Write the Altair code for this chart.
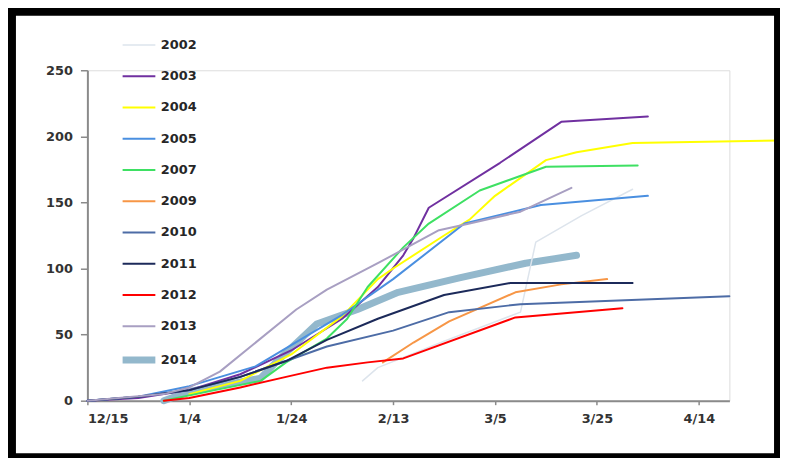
import altair as alt
import pandas as pd

years = ["2002", "2003", "2004", "2005", "2007", "2009", "2010", "2011", "2012", "2013", "2014"]
colors = ["#dde4ec", "#7030a0", "#ffff00", "#4a8fe0", "#3ee063", "#f79646",
          "#4d6ca6", "#1c2a5a", "#ff0000", "#a89fc2", "#93b8cc"]
widths = [1.5, 2, 2, 2, 2, 2, 2, 2, 2, 2, 7]

# days since 12/15 and cumulative values
d2002 = [54, 57, 70, 85, 88, 97, 107]
v2002 = [15, 25, 45, 67, 120, 140, 160]
d2003 = [0, 10, 20, 30, 40, 50, 57, 62, 64, 67, 81, 93, 110]
v2003 = [0, 2, 8, 20, 38, 62, 86, 110, 123, 146, 180, 211, 215]
d2004 = [20, 30, 40, 50, 57, 60, 70, 75, 80, 90, 96, 107, 137]
v2004 = [5, 15, 35, 64, 92, 100, 125, 137, 155, 182, 188, 195, 197]
d2005 = [0, 10, 20, 33, 40, 50, 60, 74, 89, 110]
v2005 = [0, 3, 11, 26, 42, 65, 92, 134, 148, 155]
d2007 = [15, 25, 34, 39, 47, 51, 55, 62, 67, 77, 90, 108]
v2007 = [0, 8, 15, 29, 47, 62, 86, 116, 134, 159, 177, 178]
d2009 = [58, 64, 71, 84, 93, 102]
v2009 = [29, 44, 60, 82, 88, 92]
d2010 = [0, 10, 20, 30, 39, 47, 60, 71, 85, 126]
v2010 = [0, 3, 8, 18, 30, 41, 53, 67, 73, 79]
d2011 = [0, 10, 20, 30, 39, 47, 57, 70, 83, 107]
v2011 = [0, 3, 8, 18, 30, 46, 62, 80, 89, 89]
d2012 = [15, 20, 30, 39, 47, 55, 62, 84, 105]
v2012 = [0, 2, 10, 18, 25, 29, 32, 63, 70]
d2013 = [0, 15, 20, 26, 41, 47, 57, 69, 75, 85, 95]
v2013 = [0, 5, 10, 22, 69, 84, 104, 129, 134, 143, 161]
d2014 = [15, 20, 34, 37, 45, 53, 61, 73, 86, 96]
v2014 = [0, 7, 17, 29, 58, 69, 82, 93, 104, 110]

tick_days = [0, 20, 40, 60, 80, 100, 120]
tick_labels = ["12/15", "1/4", "1/24", "2/13", "3/5", "3/25", "4/14"]
y_ticks = [0, 50, 100, 150, 200, 250]

series = {
    "2002": (d2002, v2002), "2003": (d2003, v2003), "2004": (d2004, v2004),
    "2005": (d2005, v2005), "2007": (d2007, v2007), "2009": (d2009, v2009),
    "2010": (d2010, v2010), "2011": (d2011, v2011), "2012": (d2012, v2012),
    "2013": (d2013, v2013), "2014": (d2014, v2014),
}
# draw the thick 2014 series first so the thin lines sit on top of it
draw_order = ["2014"] + years[:-1]
rows = []
for y in draw_order:
    ds, vs = series[y]
    for d, v in zip(ds, vs):
        rows.append({"year": y, "day": d, "value": v})
df = pd.DataFrame(rows)

label_expr = ""
for d, lab in zip(tick_days, tick_labels):
    label_expr += f"datum.value == {d} ? '{lab}' : "
label_expr += "''"

W, H = 647, 333
FONT = "DejaVu Sans"

legend = alt.Legend(
    title=None, orient="none", legendX=32, legendY=-43, symbolType="stroke",
    symbolSize=1089, labelFont=FONT, labelFontSize=13, labelFontWeight="bold",
    labelColor="#262626", labelOffset=2, rowPadding=6.5,
)

lines = alt.Chart(df).mark_line(strokeCap="round", strokeJoin="round").encode(
    x=alt.X("day:Q", scale=alt.Scale(domain=[0, 126], nice=False, zero=False),
            axis=alt.Axis(values=tick_days, labelExpr=label_expr, title=None, grid=False,
                          domainColor="#8a8a8a", domainWidth=2, tickColor="#8a8a8a",
                          tickSize=4, tickWidth=1.5, labelFont=FONT, labelFontSize=13,
                          labelFontWeight="bold", labelColor="#333333", labelPadding=8)),
    y=alt.Y("value:Q", scale=alt.Scale(domain=[0, 250], nice=False),
            axis=alt.Axis(values=y_ticks, title=None, grid=False,
                          domainColor="#8a8a8a", domainWidth=2, tickColor="#8a8a8a",
                          tickSize=7, tickWidth=1.5, labelFont=FONT, labelFontSize=13,
                          labelFontWeight="bold", labelColor="#333333", labelPadding=8)),
    color=alt.Color("year:O", scale=alt.Scale(domain=years, range=colors), legend=legend),
    strokeWidth=alt.StrokeWidth("year:O",
                                scale=alt.Scale(type="ordinal", domain=years, range=widths),
                                legend=legend),
    order=alt.Order("day:Q"),
)

frame = alt.Chart(alt.Data(values=[{}])).mark_rect(
    filled=False, stroke="black", strokeWidth=8
).encode(
    x=alt.value(-76), x2=alt.value(696), y=alt.value(-59), y2=alt.value(390)
)

chart = alt.layer(lines, frame).properties(
    width=W, height=H,
    autosize=alt.AutoSizeParams(type="none"),
    padding={"left": 80, "top": 61, "right": 51, "bottom": 56},
).configure_view(stroke=None).configure(background="white")

chart.save("out.html", embed_options={"renderer": "svg", "actions": False})
